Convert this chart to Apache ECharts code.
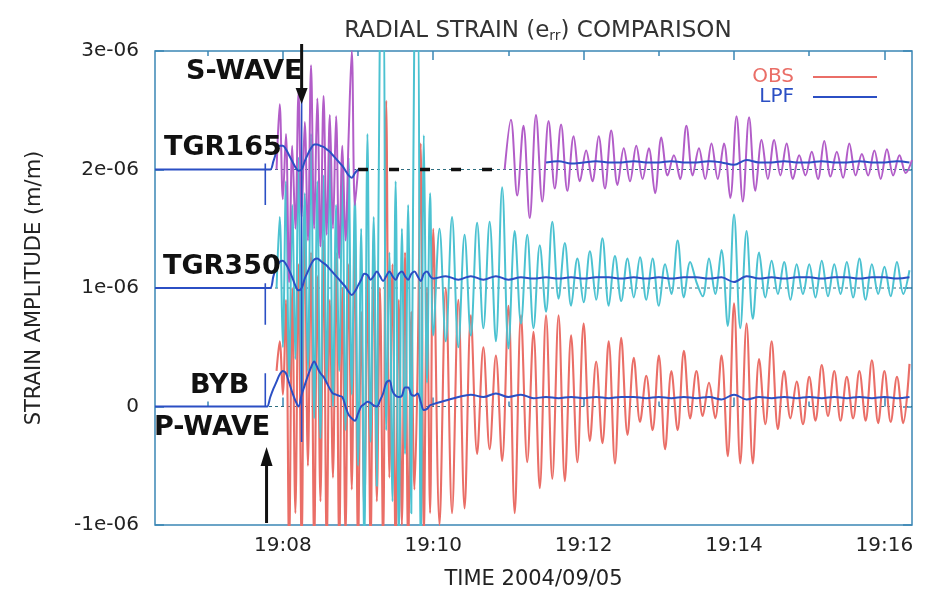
<!DOCTYPE html>
<html>
<head>
<meta charset="utf-8">
<title>Radial strain comparison</title>
<script src="https://cdn.jsdelivr.net/npm/echarts@6/dist/echarts.min.js"></script>
<style>
  html, body { margin: 0; padding: 0; background: #fff; }
  #chart { width: 935px; height: 592px; }
</style>
</head>
<body>
<div id="chart"></div>
<script>
// time is seconds after 19:00:00 on 2004/09/05, strain in units of 1e-06
var xMin = 378
var xMax = 982
var majorTicks = [480, 600, 720, 840, 960]
var minorTicks = [420, 540, 660, 780, 900]
var zeroLevels = [0, 1, 2]
var preTimes = [378, 466]
var pArrival = 467
var sArrival = 495
var pMarks = [[1.7, 2.05], [0.69, 1.04], [0, 0.28]]
var sMark = [-0.3, 2.65]
var gap165 = [540, 647]

// TGR165 observed (purple), two pieces around the data gap
var obs165A = [2.0, 2.55, 1.75, 2.3, 1.05, 2.2, 1.5, 2.65, 1.6, 2.4, 1.4, 2.88, 1.5, 2.6, 1.35, 2.62, 1.45, 2.46, 1.5, 2.45, 1.25, 2.2, 1.4, 2.28, 3.0, 1.7, 2.0]
var obs165B = [2.0, 2.42, 1.78, 2.37, 1.59, 2.46, 1.73, 2.41, 1.84, 2.38, 1.82, 2.28, 1.9, 2.16, 1.9, 2.28, 1.84, 2.33, 1.87, 2.18,
  1.9, 2.2, 1.92, 2.18, 1.8, 2.27, 1.95, 2.12, 1.92, 2.37, 1.95, 2.18, 1.92, 2.22, 1.92, 2.22, 1.76, 2.45, 1.73, 2.44,
  1.82, 2.25, 1.92, 2.25, 1.95, 2.22, 1.92, 2.12, 1.95, 2.15, 1.92, 2.24, 1.94, 2.15, 1.93, 2.22, 1.95, 2.13, 1.95, 2.16,
  1.92, 2.17, 1.95, 2.12, 1.97, 2.08]
// TGR350 observed (cyan)
var obs350A = [1.0, 1.6, 0.5, 1.9, 0.25, 1.7, 0.4, 2.1, 0.1, 1.8, 0.3, 2.3, -0.1, 1.9, -0.27, 1.95, 0.2, 2.2, 0.0, 1.7,
  0.3, 2.0, -0.2, 2.1, 0.1, 1.8, -0.5, 1.5, -1.2, 2.3, -0.3, 1.6, -0.67, 3.3, 3.4, -0.2, 1.3, -0.8, 1.9, -1.1,
  1.5, -0.4, 1.7, -0.9, 3.3, 3.4, -1.2, 2.29, 0.2, 1.8, 0.6]
var obs350B = [1.5, 0.55, 1.6, 0.5, 1.45, 0.6, 1.55, 0.66, 1.56, 0.55, 1.85, 0.49, 1.48, 0.7, 1.45, 0.66, 1.36, 0.8, 1.56, 0.91,
  1.38, 0.85, 1.25, 0.88, 1.31, 0.9, 1.42, 0.85, 1.27, 0.89, 1.25, 0.92, 1.26, 0.9, 1.25, 0.85, 1.2, 0.95, 1.4, 0.92,
  1.22, 1.05, 0.93, 1.25, 0.95, 1.32, 0.68, 1.62, 0.66, 1.48, 0.74, 1.3, 0.92, 1.23, 0.95, 1.22, 0.9, 1.2, 0.95, 1.2,
  0.92, 1.23, 0.93, 1.2, 0.95, 1.22, 0.92, 1.25, 0.9, 1.2, 0.95, 1.18, 0.93, 1.22, 0.95, 1.15]
// BYB observed (red)
var obsBybA = [0.3, 0.55, 0.1, 0.9, -1.2, 1.0, -0.9, 1.2, -1.2, 1.7, -0.5, 1.3, -1.2, 1.1, -0.8, 1.4, -1.2, 0.9, -0.6, 1.3,
  -1.2, 1.0, -1.1, 1.2, -0.7, 1.5, -1.2, 0.8, -0.9, 1.1, -1.2, 1.4, -0.8, 1.0, -1.2, 2.58, -0.6, 1.2, -1.2, 0.9,
  -1.0, 1.3, -1.2, 0.8, -0.7, 0.3, 2.22, -1.1, 1.0, -0.9, 1.5]
var obsBybB = [-1.0, 1.0, -0.9, 0.9, -0.86, 0.77, -0.4, 0.5, -0.36, 0.43, -0.46, 0.85, -0.9, 0.77, -0.47, 0.63, -0.69, 0.77, -0.61, 0.77,
  -0.63, 0.6, -0.47, 0.7, -0.29, 0.38, -0.31, 0.55, -0.48, 0.58, -0.24, 0.41, -0.13, 0.26, -0.2, 0.43, -0.36, 0.3, -0.2, 0.47,
  -0.1, 0.3, -0.08, 0.2, -0.1, 0.43, -0.42, 0.87, -0.48, 0.7, -0.48, 0.4, -0.15, 0.55, -0.19, 0.3, -0.1, 0.21, -0.15, 0.25,
  -0.12, 0.35, -0.08, 0.3, -0.12, 0.25, -0.1, 0.3, -0.12, 0.39, -0.14, 0.3, -0.13, 0.25, -0.14, 0.36]

// low-pass filtered traces (blue)
var lpf165A = [2.0, 2.07, 2.15, 2.2, 2.2, 2.17, 2.12, 2.07, 2.02, 1.99, 2.0, 2.07, 2.13, 2.18, 2.21, 2.21, 2.2, 2.19, 2.17, 2.15,
  2.12, 2.09, 2.06, 2.03, 1.99, 1.95, 1.93, 1.97, 2.0]
var lpf165B = [2.06, 2.07, 2.05, 2.06, 2.07, 2.06, 2.06, 2.07, 2.06, 2.06, 2.07, 2.06, 2.06, 2.07, 2.06, 2.04, 2.08, 2.06, 2.06, 2.07,
  2.06, 2.06, 2.07, 2.06, 2.06, 2.07, 2.06, 2.06, 2.07, 2.06]
var lpf350A = [1.0, 1.1, 1.18, 1.22, 1.23, 1.2, 1.15, 1.09, 1.02, 0.98, 1.0, 1.08, 1.14, 1.2, 1.24, 1.25, 1.23, 1.21, 1.19, 1.16,
  1.13, 1.1, 1.07, 1.04, 1.01, 0.97, 0.94, 0.97, 1.02, 1.07, 1.12, 1.11, 1.07, 1.1, 1.14, 1.1, 1.06, 1.1, 1.14, 1.1,
  1.07, 1.12, 1.14, 1.1, 1.07, 1.12, 1.14, 1.1, 1.06, 1.12, 1.14, 1.1, 1.08]
var lpf350B = [1.1, 1.07, 1.1, 1.07, 1.1, 1.07, 1.09, 1.08, 1.09, 1.08, 1.09, 1.08, 1.09, 1.09, 1.08, 1.09, 1.08, 1.09, 1.08, 1.09,
  1.09, 1.08, 1.09, 1.05, 1.1, 1.08, 1.09, 1.08, 1.09, 1.09, 1.08, 1.09, 1.09, 1.08, 1.09, 1.09, 1.08, 1.09]
var lpfBybA = [0.0, 0.08, 0.15, 0.21, 0.27, 0.3, 0.28, 0.2, 0.12, 0.05, 0.0, 0.1, 0.18, 0.26, 0.33, 0.38, 0.33, 0.28, 0.25, 0.2,
  0.15, 0.11, 0.1, 0.09, 0.08, 0.0, -0.07, -0.1, -0.12, -0.06, 0.0, 0.02, 0.04, 0.03, 0.01, 0.0, 0.05, 0.11, 0.2, 0.22,
  0.13, 0.09, 0.08, 0.09, 0.16, 0.16, 0.1, 0.09, 0.11, 0.04, -0.03, -0.02, 0.01, 0.02]
var lpfBybB = [0.05, 0.08, 0.1, 0.08, 0.11, 0.08, 0.1, 0.07, 0.08, 0.07, 0.08, 0.07, 0.08, 0.07, 0.08, 0.08, 0.07, 0.08, 0.07, 0.08,
  0.07, 0.08, 0.06, 0.1, 0.06, 0.08, 0.07, 0.08, 0.07, 0.08, 0.07, 0.08, 0.07, 0.08, 0.07, 0.08, 0.07, 0.08]

var FONT = "'DejaVu Sans', sans-serif"
var BORDER = '#3b86b5'
var PURPLE = '#b25dc8'
var CYAN = '#4cc2d1'
var RED = '#ea6e67'
var BLUE = '#2b4fc4'

// evenly sampled piece -> [time, value] pairs
function seg(t0, dt, vals) {
  return vals.map(function (v, i) { return [t0 + i * dt, v] })
}
function pre(level) {
  return preTimes.map(function (t) { return [t, level] })
}
var BREAK = [[null, '-']]

function trace(name, color, width, data, z) {
  return {
    name: name, type: 'line', data: data, symbol: 'none', smooth: 0.35, z: z,
    connectNulls: false, animation: false, silent: true,
    lineStyle: { color: color, width: width }, itemStyle: { color: color }
  }
}

var series = []
zeroLevels.forEach(function (lvl) {
  series.push({
    type: 'line', symbol: 'none', silent: true, animation: false, z: 1,
    data: [[xMin, lvl], [xMax, lvl]],
    lineStyle: { color: '#2f6f80', width: 1, type: [3, 3] }
  })
})
series.push(trace('OBS', RED, 2.1, seg(475, 2.5, obsBybA).concat(seg(605, 5, obsBybB)), 2))
series.push(trace('TGR350 OBS', CYAN, 2, seg(475, 2.5, obs350A).concat(seg(605, 5, obs350B)), 3))
series.push(trace('TGR165 OBS', PURPLE, 2, seg(475, 2.5, obs165A).concat(BREAK, seg(657, 5, obs165B)), 4))
series.push({
  type: 'line', symbol: 'none', silent: true, animation: false, z: 5,
  data: gap165.map(function (t) { return [t, 2] }),
  lineStyle: { color: '#111', width: 3.5, type: [10, 21] }
})
series.push(trace('LPF', BLUE, 2, pre(0).concat(seg(467.5, 2.5, lpfBybA), seg(610, 10, lpfBybB)), 6))
series.push(trace('LPF 350', BLUE, 2, pre(1).concat(seg(470, 2.5, lpf350A), seg(610, 10, lpf350B)), 6))
series.push(trace('LPF 165', BLUE, 2, pre(2).concat(seg(470, 2.5, lpf165A), BREAK, seg(690, 10, lpf165B)), 6))
var markData = []
pMarks.forEach(function (m) {
  markData.push([pArrival - 1, m[0]], [pArrival - 1, m[1]], [null, '-'])
})
markData.push([sArrival, sMark[0]], [sArrival, sMark[1]])
series.push({
  type: 'line', symbol: 'none', silent: true, animation: false, z: 7,
  data: markData, lineStyle: { color: BLUE, width: 1.6 }
})

function xTickAxis(pos, ticks, len, labels) {
  return {
    type: 'value', min: xMin, max: xMax, position: pos,
    axisLine: { show: false }, splitLine: { show: false },
    axisTick: { show: true, inside: true, length: len, customValues: ticks, lineStyle: { color: BORDER, width: 1.5 } },
    axisLabel: labels ? {
      customValues: ticks, margin: 11, fontSize: 20, fontFamily: FONT, color: '#222',
      formatter: function (v) { return '19:' + String(Math.round(v / 60)).padStart(2, '0') }
    } : { show: false }
  }
}
function yTickAxis(pos, labels) {
  return {
    type: 'value', min: -1, max: 3, interval: 1, position: pos,
    axisLine: { show: false }, splitLine: { show: false },
    axisTick: { show: true, inside: true, length: 9, lineStyle: { color: BORDER, width: 1.5 } },
    axisLabel: labels ? {
      margin: 16, fontSize: 20, fontFamily: FONT, color: '#222',
      formatter: function (v) { return v === 0 ? '0' : v + 'e-06' }
    } : { show: false }
  }
}

var xAxes = [
  xTickAxis('bottom', majorTicks, 9, true),
  xTickAxis('bottom', minorTicks, 5, false),
  xTickAxis('top', majorTicks, 9, false),
  xTickAxis('top', minorTicks, 5, false)
]
xAxes[0].name = 'TIME 2004/09/05'
xAxes[0].nameLocation = 'middle'
xAxes[0].nameGap = 44
xAxes[0].nameTextStyle = { fontSize: 21, fontFamily: FONT, color: '#222' }

var yAxes = [yTickAxis('left', true), yTickAxis('right', false)]
yAxes[0].name = 'STRAIN AMPLITUDE (m/m)'
yAxes[0].nameLocation = 'middle'
yAxes[0].nameGap = 110
yAxes[0].nameRotate = 90
yAxes[0].nameTextStyle = { fontSize: 21, fontFamily: FONT, color: '#222' }

var chart = echarts.init(document.getElementById('chart'), null, { renderer: 'canvas' })
chart.setOption({
  animation: false,
  backgroundColor: '#fff',
  title: {
    text: 'RADIAL STRAIN (e{s|rr}) COMPARISON',
    left: 533, top: 14, textAlign: 'center',
    textStyle: {
      fontFamily: FONT, fontSize: 23, fontWeight: 'normal', color: '#333',
      rich: { s: { fontFamily: FONT, fontSize: 14, color: '#333', verticalAlign: 'bottom', padding: [10, 0, 0, 0] } }
    }
  },
  legend: {
    orient: 'vertical', right: 53, top: 62, align: 'right',
    icon: 'rect', itemWidth: 64, itemHeight: 2, itemGap: 0,
    selectedMode: false,
    data: [
      { name: 'OBS', textStyle: { color: RED } },
      { name: 'LPF', textStyle: { color: BLUE } }
    ],
    textStyle: { fontSize: 20, fontFamily: FONT, padding: [0, 14, 0, 0] }
  },
  grid: {
    left: 155, right: 23, top: 51, bottom: 67,
    show: true, borderColor: BORDER, borderWidth: 1.5,
    containLabel: false, outerBoundsMode: 'none'
  },
  xAxis: xAxes,
  yAxis: yAxes,
  series: series
})

// annotation text and arrival arrows
var sx = chart.convertToPixel({ xAxisIndex: 0 }, sArrival)
var px = chart.convertToPixel({ xAxisIndex: 0 }, pArrival)
function label(text, x, y) {
  return {
    type: 'text', z: 100, silent: true,
    style: { text: text, x: x, y: y, fill: '#111', font: "bold 27px 'DejaVu Sans', sans-serif", verticalAlign: 'middle', textVerticalAlign: 'middle' }
  }
}
chart.setOption({
  graphic: [
    label('S-WAVE', 186, 72),
    label('TGR165', 164, 148),
    label('TGR350', 163, 267),
    label('BYB', 190, 386),
    label('P-WAVE', 154, 428),
    { type: 'line', z: 100, silent: true, shape: { x1: sx, y1: 44, x2: sx, y2: 92 }, style: { stroke: '#111', lineWidth: 3 } },
    { type: 'polygon', z: 100, silent: true, shape: { points: [[sx - 6, 88], [sx + 6, 88], [sx, 104]] }, style: { fill: '#111' } },
    { type: 'line', z: 100, silent: true, shape: { x1: px, y1: 523, x2: px, y2: 462 }, style: { stroke: '#111', lineWidth: 3 } },
    { type: 'polygon', z: 100, silent: true, shape: { points: [[px - 6, 466], [px + 6, 466], [px, 447]] }, style: { fill: '#111' } }
  ]
})
</script>
</body>
</html>
